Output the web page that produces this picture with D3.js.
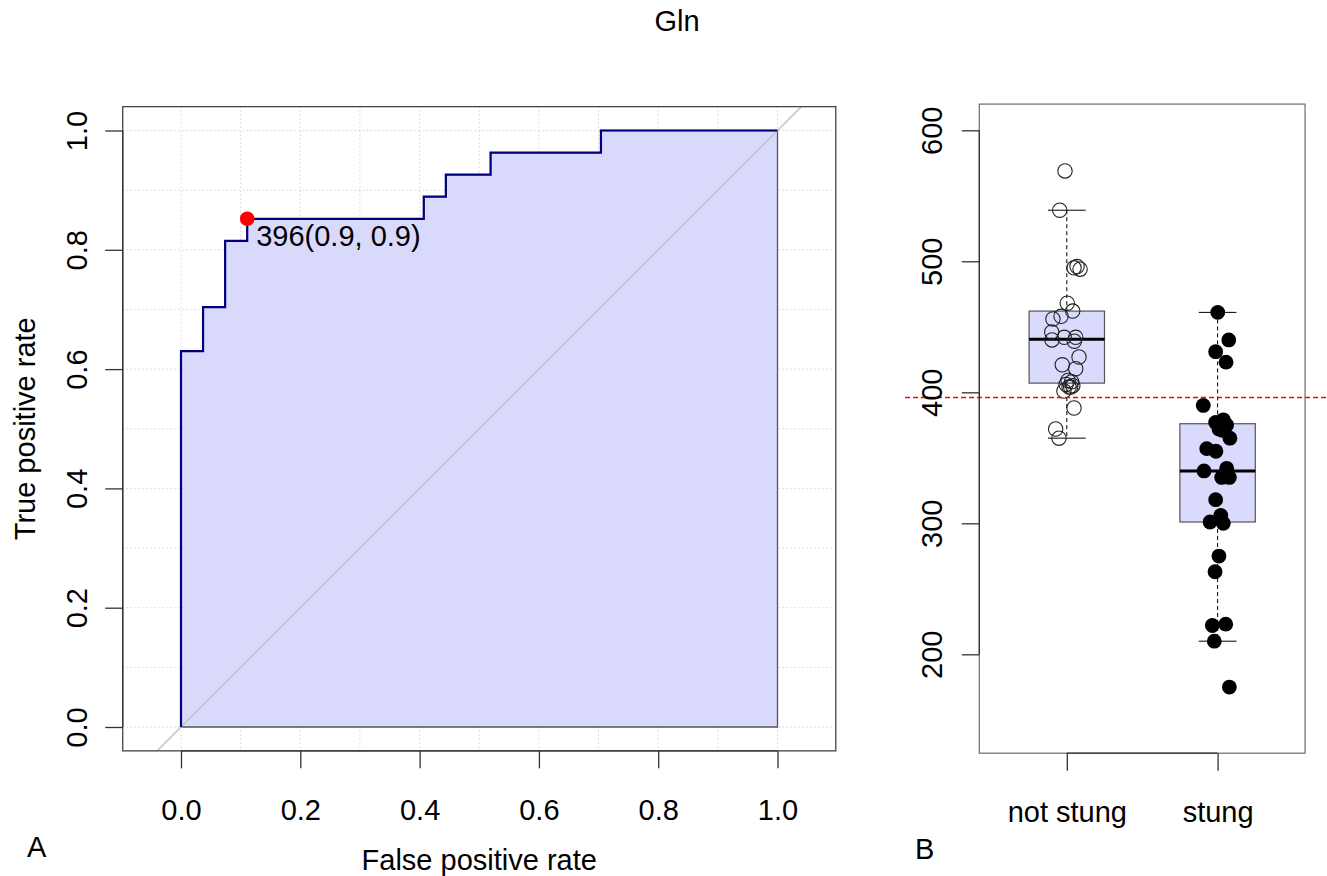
<!DOCTYPE html>
<html>
<head>
<meta charset="utf-8">
<script src="https://cdn.jsdelivr.net/npm/d3@7"></script>
<style>
  body { margin: 0; background: #fff; }
  text { font-family: "Liberation Sans", Arial, sans-serif; fill: #000; }
</style>
</head>
<body>
<div id="chart"></div>
<script>
// ROC curve vertices (step after)
var rocFpr = [0, 0, 0.037, 0.074, 0.111, 0.407, 0.444, 0.519, 0.704, 1.0];
var rocTpr = [0, 0.630, 0.704, 0.815, 0.852, 0.889, 0.926, 0.963, 1.0, 1.0];
var bestPoint = {fpr: 0.111, tpr: 0.852, label: "396(0.9, 0.9)"};
var xTicks = [0, 0.2, 0.4, 0.6, 0.8, 1.0];
var yTicks = [0, 0.2, 0.4, 0.6, 0.8, 1.0];
var gridSteps = [0, 0.1, 0.2, 0.3, 0.4, 0.5, 0.6, 0.7, 0.8, 0.9, 1.0];

// boxplot panel B
var groups = ["not stung", "stung"];
var boxStats = [
    {lower: 365, q1: 407, median: 440.5, q3: 462, upper: 539},
    {lower: 210, q1: 301, median: 340, q3: 376, upper: 461}
];
var notStungX = [0.988, 0.953, 1.048, 1.068, 1.088, 1.003, 1.039, 0.962, 0.908, 0.900, 0.983, 1.059, 0.902, 1.050,
                 1.081, 0.970, 1.059, 1.032, 0.995, 1.026, 0.981, 1.048, 0.926, 0.948, 1.008, 1.015, 1.040];
var notStungY = [569, 539, 495, 496, 494, 468, 462, 458, 456, 446, 442, 442, 440, 439,
                 427, 421, 418, 408, 406, 404, 401, 388, 372, 365, 409, 404, 405];
var stungX = [2.001, 2.074, 1.987, 2.056, 1.905, 1.987, 2.038, 2.060, 2.031, 2.082, 1.928, 1.989, 1.910, 2.060,
              2.027, 2.078, 1.987, 2.021, 1.950, 2.038, 2.009, 1.983, 1.965, 2.054, 1.978, 2.078, 2.009];
var stungY = [461, 440, 431, 423, 390, 377, 379, 375, 371, 365, 357, 355, 340, 342,
              335, 335, 318, 306, 301, 300, 275, 263, 222, 223, 210, 175, 372];
var cutoff = 396;
var bTicks = [200, 300, 400, 500, 600];

var W = 1327, H = 876;
var svg = d3.select("#chart").append("svg")
    .attr("width", W)
    .attr("height", H);

svg.append("text")
    .attr("x", 677).attr("y", 31)
    .attr("text-anchor", "middle")
    .style("font-size", "29px")
    .text("Gln");

// ---------- panel A ----------
var x = d3.scaleLinear().domain([0, 1]).range([181, 777.5]);
var y = d3.scaleLinear().domain([0, 1]).range([727, 130.5]);
var frameA = {x0: x(-0.0977), x1: x(1.0977), y0: y(1.04), y1: y(-0.04)};

var defs = svg.append("defs");
defs.append("clipPath").attr("id", "clipA")
    .append("rect")
    .attr("x", frameA.x0).attr("y", frameA.y0)
    .attr("width", frameA.x1 - frameA.x0).attr("height", frameA.y1 - frameA.y0);

var rocPts = rocFpr.map(function (d, i) { return [d, rocTpr[i]]; });
var stepLine = d3.line().x(d => x(d[0])).y(d => y(d[1])).curve(d3.curveStepAfter);

// grid
var grid = svg.append("g").attr("clip-path", "url(#clipA)");
grid.selectAll(".gx").data(gridSteps.concat([1.1])).enter().append("line")
    .attr("x1", d => x(d)).attr("x2", d => x(d))
    .attr("y1", frameA.y0).attr("y2", frameA.y1)
    .attr("stroke", "#d3d3d3").attr("stroke-width", 1)
    .attr("stroke-dasharray", "1.5,2.5");
grid.selectAll(".gy").data(gridSteps).enter().append("line")
    .attr("y1", d => y(d)).attr("y2", d => y(d))
    .attr("x1", frameA.x0).attr("x2", frameA.x1)
    .attr("stroke", "#d3d3d3").attr("stroke-width", 1)
    .attr("stroke-dasharray", "1.5,2.5");

// auc polygon
var polyPts = rocPts.concat([[1, 0], [0, 0]]);
svg.append("path")
    .attr("d", stepLine(polyPts))
    .attr("fill", "#d6d6fc")
    .attr("fill-opacity", 0.92)
    .attr("stroke", "#555")
    .attr("stroke-width", 1.3);

// diagonal
svg.append("g").attr("clip-path", "url(#clipA)")
    .append("line")
    .attr("x1", x(-0.2)).attr("y1", y(-0.2))
    .attr("x2", x(1.2)).attr("y2", y(1.2))
    .attr("stroke", "#c4c4c4").attr("stroke-width", 1.5);

// roc curve
svg.append("path")
    .attr("d", stepLine(rocPts))
    .attr("fill", "none")
    .attr("stroke", "#00007f")
    .attr("stroke-width", 2.2);

svg.append("circle")
    .attr("cx", x(bestPoint.fpr)).attr("cy", y(bestPoint.tpr))
    .attr("r", 7.3).attr("fill", "#ff0000");
svg.append("text")
    .attr("x", x(bestPoint.fpr) + 9).attr("y", y(bestPoint.tpr) + 27)
    .style("font-size", "29px")
    .text(bestPoint.label);

// frame
svg.append("rect")
    .attr("x", frameA.x0).attr("y", frameA.y0)
    .attr("width", frameA.x1 - frameA.x0).attr("height", frameA.y1 - frameA.y0)
    .attr("fill", "none").attr("stroke", "#444").attr("stroke-width", 1.3);

var xAxisA = svg.append("g")
    .attr("transform", "translate(0," + frameA.y1 + ")")
    .call(d3.axisBottom(x).tickValues(xTicks).tickFormat(d3.format(".1f")).tickSize(17.5).tickPadding(31));
var yAxisA = svg.append("g")
    .attr("transform", "translate(" + frameA.x0 + ",0)")
    .call(d3.axisLeft(y).tickValues(yTicks).tickFormat(d3.format(".1f")).tickSize(17.5));
[xAxisA, yAxisA].forEach(function (g) {
    g.select(".domain").attr("stroke", "#333").attr("stroke-width", 1.3);
    g.selectAll(".tick line").attr("stroke", "#333").attr("stroke-width", 1.3);
    g.selectAll("text").style("font-size", "29px").attr("fill", "#000")
        .style("font-family", "Liberation Sans, Arial, sans-serif");
});
yAxisA.selectAll(".tick text")
    .attr("x", null).attr("dy", null)
    .attr("text-anchor", "middle")
    .attr("transform", "translate(-36,0) rotate(-90)");
yAxisA.select(".domain").attr("d", "M0," + y(0) + "V" + y(1));
xAxisA.select(".domain").attr("d", "M" + x(0) + ",0H" + x(1));

svg.append("text")
    .attr("x", (frameA.x0 + frameA.x1) / 2).attr("y", 870)
    .attr("text-anchor", "middle").style("font-size", "29px")
    .text("False positive rate");
svg.append("text")
    .attr("transform", "translate(35," + (frameA.y0 + frameA.y1) / 2 + ") rotate(-90)")
    .attr("text-anchor", "middle").style("font-size", "29px")
    .text("True positive rate");
svg.append("text")
    .attr("x", 27).attr("y", 857).style("font-size", "29px")
    .text("A");

// ---------- panel B ----------
var xb = d3.scaleLinear().domain([1, 2]).range([1066.8, 1217.6]);
var yb = d3.scaleLinear().domain([200, 600]).range([654.3, 130.3]);
var frameB = {x0: xb(0.42), x1: xb(2.58), y0: yb(620), y1: yb(124.5)};

svg.append("rect")
    .attr("x", frameB.x0).attr("y", frameB.y0)
    .attr("width", frameB.x1 - frameB.x0).attr("height", frameB.y1 - frameB.y0)
    .attr("fill", "none").attr("stroke", "#777").attr("stroke-width", 1.3);

var boxes = svg.selectAll(".box").data(boxStats).enter().append("g");
boxes.append("line")
    .attr("x1", (d, i) => xb(i + 1)).attr("x2", (d, i) => xb(i + 1))
    .attr("y1", d => yb(d.upper)).attr("y2", d => yb(d.q3))
    .attr("stroke", "#000").attr("stroke-dasharray", "4,3");
boxes.append("line")
    .attr("x1", (d, i) => xb(i + 1)).attr("x2", (d, i) => xb(i + 1))
    .attr("y1", d => yb(d.q1)).attr("y2", d => yb(d.lower))
    .attr("stroke", "#000").attr("stroke-dasharray", "4,3");
boxes.append("line")
    .attr("x1", (d, i) => xb(i + 1 - 0.125)).attr("x2", (d, i) => xb(i + 1 + 0.125))
    .attr("y1", d => yb(d.upper)).attr("y2", d => yb(d.upper))
    .attr("stroke", "#000");
boxes.append("line")
    .attr("x1", (d, i) => xb(i + 1 - 0.125)).attr("x2", (d, i) => xb(i + 1 + 0.125))
    .attr("y1", d => yb(d.lower)).attr("y2", d => yb(d.lower))
    .attr("stroke", "#000");
boxes.append("rect")
    .attr("x", (d, i) => xb(i + 1 - 0.25))
    .attr("width", xb(1.5) - xb(1))
    .attr("y", d => yb(d.q3))
    .attr("height", d => yb(d.q1) - yb(d.q3))
    .attr("fill", "#dadafd").attr("stroke", "#555").attr("stroke-width", 1.2);
boxes.append("line")
    .attr("x1", (d, i) => xb(i + 1 - 0.25)).attr("x2", (d, i) => xb(i + 1 + 0.25))
    .attr("y1", d => yb(d.median)).attr("y2", d => yb(d.median))
    .attr("stroke", "#000").attr("stroke-width", 3);

svg.selectAll(".ns").data(notStungX).enter().append("circle")
    .attr("cx", d => xb(d))
    .attr("cy", (d, i) => yb(notStungY[i]))
    .attr("r", 7.2)
    .attr("fill", "none").attr("stroke", "#222").attr("stroke-width", 1.1);
svg.selectAll(".st").data(stungX).enter().append("circle")
    .attr("cx", d => xb(d))
    .attr("cy", (d, i) => yb(stungY[i]))
    .attr("r", 7.4)
    .attr("fill", "#000");

svg.append("line")
    .attr("x1", 905).attr("x2", W)
    .attr("y1", yb(cutoff)).attr("y2", yb(cutoff))
    .attr("stroke", "#ff0000").attr("stroke-width", 1.6)
    .attr("stroke-dasharray", "5,3");

var yAxisB = svg.append("g")
    .attr("transform", "translate(" + frameB.x0 + ",0)")
    .call(d3.axisLeft(yb).tickValues(bTicks).tickSize(17.5));
var xAxisB = svg.append("g")
    .attr("transform", "translate(0," + frameB.y1 + ")")
    .call(d3.axisBottom(xb).tickValues([1, 2]).tickFormat((d, i) => groups[i]).tickSize(17.5).tickPadding(31));
[xAxisB, yAxisB].forEach(function (g) {
    g.select(".domain").attr("stroke", "#333").attr("stroke-width", 1.3);
    g.selectAll(".tick line").attr("stroke", "#333").attr("stroke-width", 1.3);
    g.selectAll("text").style("font-size", "29px").attr("fill", "#000")
        .style("font-family", "Liberation Sans, Arial, sans-serif");
});
yAxisB.selectAll(".tick text")
    .attr("x", null).attr("dy", null)
    .attr("text-anchor", "middle")
    .attr("transform", "translate(-37,0) rotate(-90)");
yAxisB.select(".domain").attr("d", "M0," + yb(200) + "V" + yb(600));
xAxisB.select(".domain").attr("d", "M" + xb(1) + ",0H" + xb(2));

svg.append("text")
    .attr("x", 915).attr("y", 859).style("font-size", "29px")
    .text("B");
</script>
</body>
</html>
